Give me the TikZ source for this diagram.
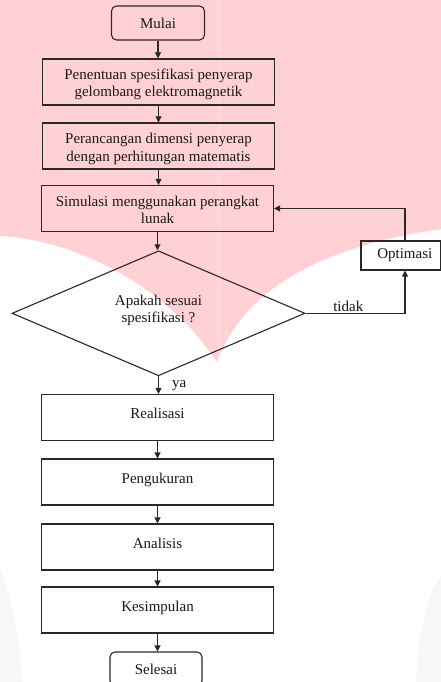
\documentclass[tikz,border=0pt]{standalone}
\usepackage{fontspec}
\setmainfont{Liberation Serif}
\usetikzlibrary{shapes.geometric,arrows.meta}
\definecolor{wmpink}{RGB}{255,209,212}
\definecolor{wmgray}{RGB}{247,247,247}
\definecolor{lncol}{RGB}{40,40,40}
\definecolor{txcol}{RGB}{25,25,25}
\tikzset{
  box/.style={draw=lncol, line width=1.1pt, rectangle, minimum width=232pt, minimum height=46pt,
    inner xsep=2pt, inner ysep=0pt, text=txcol, align=center},
  onebox/.style={box, text height=24pt, text depth=22pt},
  twobox/.style={box, text height=38pt, text depth=8pt},
  term/.style={draw=lncol, line width=1.1pt, rounded corners=5pt, minimum width=93pt,
    minimum height=34pt, text=txcol},
  arr/.style={draw=lncol, line width=1.1pt, -{Triangle[length=6pt,width=6pt]}},
  lbl/.style={text=txcol, inner sep=1pt},
}
\begin{document}
\begin{tikzpicture}[x=1pt,y=-1pt,font=\fontsize{15}{17.5}\selectfont]
\useasboundingbox (0,0) rectangle (441,682);
\fill[white] (0,0) rectangle (441,682);
% watermark
\fill[wmpink] (0,0) -- (441,0) -- (441,229)
  .. controls (330,245) and (245,285) .. (217,362)
  .. controls (170,290) and (80,240) .. (0,236) -- cycle;
\fill[white, opacity=0.15] (217,0) rectangle (221,356);
\fill[wmgray] (0,570) .. controls (12,600) and (20,640) .. (22,682) -- (0,682) -- cycle;
\fill[wmgray] (441,575) .. controls (425,600) and (418,640) .. (416,682) -- (441,682) -- cycle;

% nodes
\node[term] (start) at (158,23) {Mulai};
\node[twobox] (spec) at (158.5,82) {Penentuan spesifikasi penyerap\\gelombang elektromagnetik};
\node[twobox] (dim) at (158.5,146) {Perancangan dimensi penyerap\\dengan perhitungan matematis};
\node[twobox] (sim) at (157.5,208.5) {Simulasi menggunakan perangkat\\lunak};
\node[draw=lncol, line width=1.1pt, diamond, minimum width=293pt, minimum height=125pt,
  inner sep=0pt] (dia) at (158.5,313.3) {};
\node[lbl, align=center, yshift=3pt] (diatext) at (dia.center) {Apakah sesuai\\spesifikasi ?};
\node[draw=lncol, line width=1.1pt, minimum width=79.5pt, minimum height=29pt, text=txcol]
  (opt) at (400.75,255.5) {\hspace*{8pt}Optimasi};
\coordinate (optx) at (405,0);
\node[onebox] (real) at (157.5,417.5) {Realisasi};
\node[onebox] (meas) at (157.5,482) {Pengukuran};
\node[onebox] (anal) at (157.5,547) {Analisis};
\node[onebox] (conc) at (157.5,610) {Kesimpulan};
\node[term, minimum width=92pt] (stop) at (156,669) {Selesai};

% connectors
\draw[arr] (start.south) -- (start.south |- spec.north);
\draw[arr] (spec.south) -- (spec.south |- dim.north);
\draw[arr] (dim.south) -- (dim.south |- sim.north);
\draw[arr] (sim.south) -- (sim.south |- dia.north);
\draw[arr] (dia.south) -- (dia.south |- real.north)
  node[midway, anchor=west, lbl, inner sep=0pt, xshift=13pt] {ya};
\draw[arr] (dia.east) -| (opt.south -| optx)
  node[pos=0.215, anchor=south, lbl] {tidak};
\draw[arr] (opt.north -| optx) |- (sim.east);
\draw[arr] (real.south) -- (real.south |- meas.north);
\draw[arr] (meas.south) -- (meas.south |- anal.north);
\draw[arr] (anal.south) -- (anal.south |- conc.north);
\draw[arr] (conc.south) -- (conc.south |- stop.north);
\end{tikzpicture}
\end{document}
